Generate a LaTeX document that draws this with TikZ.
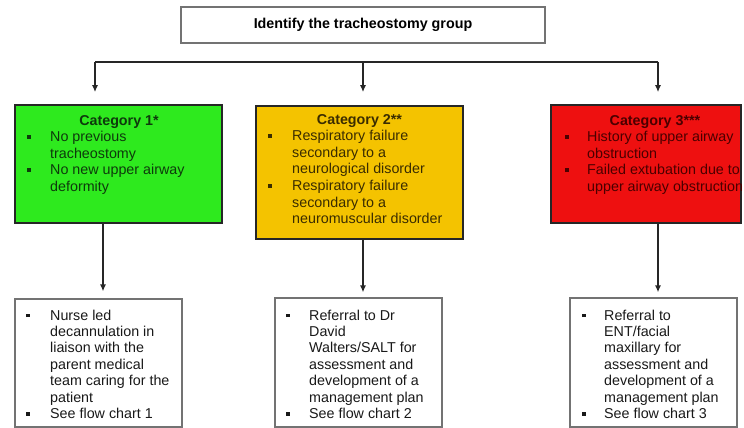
\documentclass[tikz,border=0pt]{standalone}
\usepackage{fontspec}
\setmainfont{Liberation Sans}
\usetikzlibrary{arrows.meta}
\definecolor{cgreen}{HTML}{2EEA1E}
\definecolor{cyellow}{HTML}{F4C300}
\definecolor{cred}{HTML}{EE1010}
\definecolor{tgreen}{HTML}{0E3A0C}
\definecolor{tyellow}{HTML}{3A2C00}
\definecolor{tred}{HTML}{4A0000}
\newcommand{\sqb}{\rule[2.8pt]{3.6pt}{3.6pt}}
\newcommand{\bodyfont}{\fontsize{14.3}{16.6}\selectfont}
\newcommand{\lowfont}{\fontsize{14.3}{16.4}\selectfont}
\newcommand{\blist}[2]{\begin{tabular}[t]{@{}p{#1}@{}l@{}}#2\end{tabular}}
\tikzset{
  catbox/.style={draw=black!85, line width=1.6pt, inner sep=0pt},
  plainbox/.style={draw=black!55, line width=1.2pt, inner sep=0pt, fill=white},
  txt/.style={inner sep=0pt, anchor=base west, font=\bodyfont},
  lowtxt/.style={inner sep=0pt, anchor=base west, font=\lowfont, text=black!90},
  ttl/.style={inner sep=0pt, anchor=base, font=\bodyfont\bfseries},
  conn/.style={draw=black!85, line width=1.5pt},
  arr/.style={conn, -{Latex[length=7pt,width=6pt]}},
}
\begin{document}
\begin{tikzpicture}[x=1pt,y=-1pt]
\useasboundingbox (0,0) rectangle (744,428);
\fill[white] (0,0) rectangle (744,428);

% top box
\node[plainbox, minimum width=364pt, minimum height=36pt, font=\fontsize{14.3}{16}\selectfont\bfseries] (top) at (363,25) {Identify the tracheostomy group};

% category boxes
\node[catbox, fill=cgreen, minimum width=207pt, minimum height=118pt] (cat1) at (118.5,164) {};
\node[catbox, fill=cyellow, minimum width=207pt, minimum height=133pt] (cat2) at (359.5,172.5) {};
\node[catbox, fill=cred, minimum width=190pt, minimum height=118pt] (cat3) at (646,164) {};

\node[ttl, text=tgreen] (cat1t) at (119,125) {Category 1*};
\node[txt, text=tgreen] (cat1l) at (27,141.6) {\blist{23pt}{%
\sqb & No previous\\
 & tracheostomy\\
\sqb & No new upper airway\\
 & deformity}};

\node[ttl, text=tyellow] (cat2t) at (359.5,124) {Category 2**};
\node[txt, text=tyellow] (cat2l) at (268,140.6) {\blist{24pt}{%
\sqb & Respiratory failure\\
 & secondary to a\\
 & neurological disorder\\
\sqb & Respiratory failure\\
 & secondary to a\\
 & neuromuscular disorder}};

\node[ttl, text=tred] (cat3t) at (655,125) {Category 3***};
\node[txt, text=tred] (cat3l) at (565,141.6) {\blist{22pt}{%
\sqb & History of upper airway\\
 & obstruction\\
\sqb & Failed extubation due to\\
 & upper airway obstruction}};

% bottom boxes
\node[plainbox, minimum width=167pt, minimum height=128pt] (bot1) at (98.5,363) {};
\node[plainbox, minimum width=167pt, minimum height=129pt] (bot2) at (358.5,362.5) {};
\node[plainbox, minimum width=167pt, minimum height=129pt] (bot3) at (653.5,362.5) {};

\node[lowtxt] (bot1l) at (26,320) {\blist{24pt}{%
\sqb & Nurse led\\
 & decannulation in\\
 & liaison with the\\
 & parent medical\\
 & team caring for the\\
 & patient\\
\sqb & See flow chart 1}};

\node[lowtxt] (bot2l) at (286,320) {\blist{23pt}{%
\sqb & Referral to Dr\\
 & David\\
 & Walters/SALT for\\
 & assessment and\\
 & development of a\\
 & management plan\\
\sqb & See flow chart 2}};

\node[lowtxt] (bot3l) at (582,320) {\blist{22pt}{%
\sqb & Referral to\\
 & ENT/facial\\
 & maxillary for\\
 & assessment and\\
 & development of a\\
 & management plan\\
\sqb & See flow chart 3}};

% connectors
\coordinate (bl) at (95,62);
\coordinate (bm) at (363,62);
\coordinate (br) at (658,62);
\draw[conn] (bl) -- (br);
\draw[arr, shorten >=12pt] (bl) -- (bl |- cat1.north);
\draw[arr, shorten >=13pt] (bm) -- (bm |- cat2.north);
\draw[arr, shorten >=12pt] (br) -- (br |- cat3.north);

\coordinate (v1) at (103,0);
\coordinate (v2) at (363,0);
\coordinate (v3) at (658,0);
\draw[arr, shorten >=7pt] (cat1.south -| v1) -- (bot1.north -| v1);
\draw[arr, shorten >=5pt] (cat2.south -| v2) -- (bot2.north -| v2);
\draw[arr, shorten >=5pt] (cat3.south -| v3) -- (bot3.north -| v3);
\end{tikzpicture}
\end{document}
